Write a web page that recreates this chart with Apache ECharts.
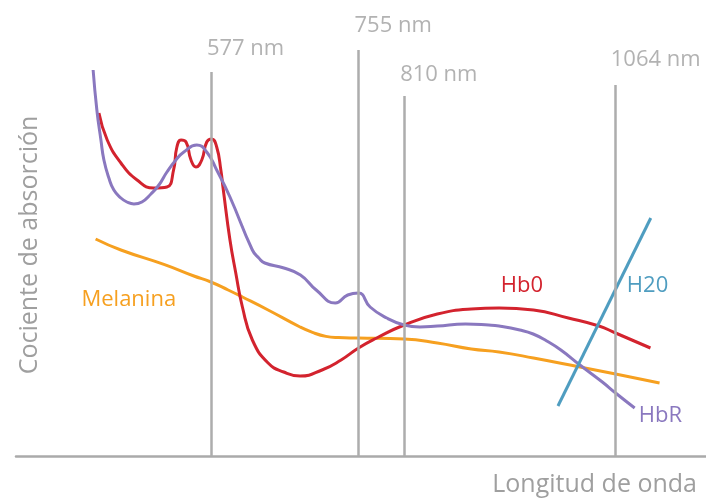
<!DOCTYPE html>
<html>
<head>
<meta charset="utf-8">
<script src="https://cdn.jsdelivr.net/npm/echarts@6/dist/echarts.min.js"></script>
<style>
html,body{margin:0;padding:0;background:#fff;}
#chart{width:706px;height:498px;}
</style>
</head>
<body>
<div id="chart"></div>
<script>
// Wavelength markers (nm)
const markerNm = [577, 755, 810, 1064];
const markerTop = [96, 101.5, 90, 92.75];
const markerLabelY = [101.75, 107.5, 95.25, 99];
const markerLabels = ['577 nm', '755 nm', '810 nm', '1064 nm'];

// HbR
const hbrNm = [435, 439.5, 444.4, 448, 454, 460, 468.5, 475.7, 484.2, 493.8, 504.7, 514.3, 524, 534.8, 544.4, 560, 572, 584, 600, 627, 634.8, 642, 665, 685, 704, 727, 742, 755, 769, 789, 810, 829, 850, 884, 912, 924.5, 949.5, 965.6, 982, 999, 1022, 1049, 1065, 1088];
const hbrVal = [96.5, 86.5, 79, 74, 69.5, 66.5, 64.5, 63.5, 63, 63.5, 65.5, 67.75, 71, 74, 76, 77.75, 76, 71.5, 64.75, 51.5, 49.5, 48.25, 47, 45.25, 41.5, 38.25, 40.25, 40.75, 37.25, 34.5, 32.75, 32.25, 32.5, 33, 32.75, 32.5, 31.5, 30.5, 28.75, 26.5, 22.75, 18.5, 15.75, 12];

// Hb0
const hboNm = [442, 452, 468.5, 488, 508, 524, 532, 536, 541, 547, 553, 559, 566, 572, 578, 584, 589, 592, 600, 607, 615, 627, 646, 664.8, 684.5, 711, 734, 755, 777, 810, 850, 891, 924.5, 966, 1008, 1045, 1065, 1107];
const hboVal = [85.75, 79, 73.25, 69, 67, 67.25, 71.5, 77.25, 79, 78.5, 74, 72.25, 74, 78.5, 79.25, 77.25, 71.5, 66.5, 54, 45.75, 37.25, 29, 23.25, 21, 20, 21.5, 24, 27, 29.5, 32.75, 35.5, 36.75, 37, 36.5, 34.5, 32.5, 30.75, 27];

// Melanina
const melNm = [438, 468.5, 520.3, 556.5, 577, 597.8, 615, 646, 684.5, 699.5, 715.7, 730.7, 755, 810, 850, 891, 924.5, 966, 1022, 1065, 1118];
const melVal = [54.25, 51.5, 47.9, 45, 43.5, 41.5, 39.75, 36.5, 32.25, 30.9, 29.9, 29.6, 29.5, 29.25, 28.25, 26.75, 26, 24.5, 22.25, 20.5, 18.25];

// H20
const h2oNm = [995.5, 1107.4];
const h2oVal = [12.5, 59.5];

// Series label anchors
const seriesNames = ['HbR', 'Hb0', 'Melanina', 'H20'];
const seriesLabelNm = [1119, 952, 478, 1103.5];
const seriesLabelVal = [10, 42.5, 39, 42.5];

const colors = {HbR: '#8a78bf', Hb0: '#d3232e', Melanina: '#f6a020', H20: '#4f9dc0'};
const FONT = 'Open Sans';
const GRAY = '#9f9f9f';

function zip(a, b) { return a.map((v, i) => [v, b[i]]); }

function lineSeries(name, nm, val, idx, smooth) {
  return {
    name: name,
    type: 'line',
    data: zip(nm, val),
    smooth: smooth,
    showSymbol: false,
    symbol: 'none',
    silent: true,
    lineStyle: {color: colors[name], width: 3},
    z: 3,
    markPoint: {
      symbol: 'circle',
      symbolSize: 0,
      silent: true,
      data: [{coord: [seriesLabelNm[idx], seriesLabelVal[idx]]}],
      label: {
        show: true, position: 'inside', formatter: name,
        color: colors[name], fontSize: 22, fontFamily: FONT
      }
    }
  };
}

const chart = echarts.init(document.getElementById('chart'));
chart.setOption({
  animation: false,
  backgroundColor: '#fff',
  grid: {left: 16, right: 0, top: 0, bottom: 42},
  xAxis: {
    type: 'value', min: 342, max: 1174,
    axisLine: {show: true, lineStyle: {color: '#aaaaaa', width: 2.5}},
    axisTick: {show: false}, axisLabel: {show: false}, splitLine: {show: false}
  },
  yAxis: {
    type: 'value', min: 0, max: 114,
    axisLine: {show: false}, axisTick: {show: false}, axisLabel: {show: false}, splitLine: {show: false}
  },
  graphic: [
    {type: 'text', x: 30, y: 245, rotation: Math.PI / 2,
     style: {text: 'Cociente de absorción', fontSize: 25, fontFamily: FONT, fill: GRAY,
             align: 'center', verticalAlign: 'middle', textAlign: 'center', textVerticalAlign: 'middle'}},
    {type: 'text', x: 697, y: 485,
     style: {text: 'Longitud de onda', fontSize: 25, fontFamily: FONT, fill: GRAY,
             align: 'right', verticalAlign: 'middle', textAlign: 'right', textVerticalAlign: 'middle'}}
  ],
  series: [
    {
      name: 'marcas',
      type: 'scatter',
      clip: false,
      silent: true,
      symbolSize: 0,
      data: zip(markerNm, markerLabelY),
      label: {
        show: true, position: 'right', distance: -4,
        formatter: p => markerLabels[p.dataIndex],
        color: GRAY, fontSize: 22, fontFamily: FONT
      },
      markLine: {
        silent: true,
        symbol: 'none',
        label: {show: false},
        lineStyle: {color: '#adadad', width: 2.5, type: 'solid'},
        data: markerNm.map((x, i) => [{coord: [x, 0]}, {coord: [x, markerTop[i]]}])
      },
      z: 1
    },
    lineSeries('Melanina', melNm, melVal, 2, 0.5),
    lineSeries('Hb0', hboNm, hboVal, 1, 0.5),
    lineSeries('HbR', hbrNm, hbrVal, 0, 0.5),
    lineSeries('H20', h2oNm, h2oVal, 3, false)
  ]
});
</script>
</body>
</html>
